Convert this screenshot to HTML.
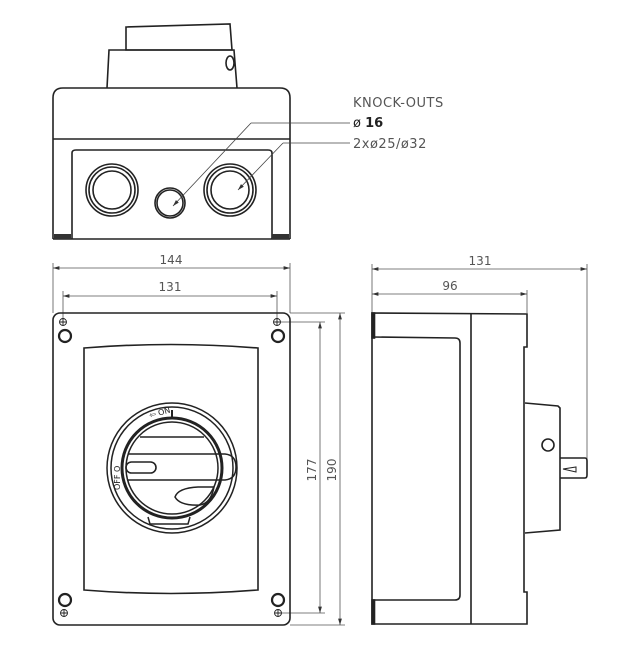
<!DOCTYPE html>
<html><head><style>
html,body{margin:0;padding:0;background:#fff;}
svg{display:block;}
text{font-family:"DejaVu Sans","Liberation Sans",sans-serif;fill:#555;}
</style></head><body>
<svg width="628" height="671" viewBox="0 0 628 671" xmlns="http://www.w3.org/2000/svg">
<defs>
<marker id="a" viewBox="0 0 10 6" refX="10" refY="3" markerWidth="8" markerHeight="5" orient="auto-start-reverse"><path d="M0,0 L10,3 L0,6 z" fill="#333"/></marker>
</defs>
<g fill="none" stroke="#222" stroke-width="1.6">
<!-- TOP VIEW -->
<path d="M126,27 L230,24 L232,50 L126,50 Z"/>
<path d="M107,88 L109,50 L234,50 L237,88"/>
<ellipse cx="230" cy="63" rx="4" ry="7"/>
<path d="M53,239 L53,98 Q53,88 63,88 L280,88 Q290,88 290,98 L290,239"/>
<line x1="53" y1="139" x2="290" y2="139"/>
<path d="M72,239 L72,153 Q72,150 76,150 L268,150 Q272,150 272,153 L272,239"/>
<line x1="53" y1="239" x2="290" y2="239"/>
<rect x="54" y="234" width="17" height="5" fill="#333" stroke="none"/>
<rect x="272" y="234" width="17" height="5" fill="#333" stroke="none"/>
<circle cx="112" cy="190" r="26"/><circle cx="112" cy="190" r="23"/><circle cx="112" cy="190" r="19"/>
<circle cx="230" cy="190" r="26"/><circle cx="230" cy="190" r="23"/><circle cx="230" cy="190" r="19"/>
<circle cx="170" cy="203" r="15"/><circle cx="170" cy="203" r="13"/>
</g>
<g stroke="#444" stroke-width="0.8" fill="none">
<line x1="251" y1="123" x2="350" y2="123"/>
<line x1="251" y1="123" x2="173" y2="206" marker-end="url(#a)"/>
<line x1="283" y1="143" x2="350" y2="143"/>
<line x1="283" y1="143" x2="238" y2="190" marker-end="url(#a)"/>
</g>
<text x="353" y="107" font-size="13" letter-spacing="0.5">KNOCK-OUTS</text>
<text x="353" y="127" font-size="13" fill="#222" style="fill:#222">ø <tspan font-weight="bold">16</tspan></text>
<text x="353" y="148" font-size="13" letter-spacing="0.5">2xø25/ø32</text>

<!-- dimensions front -->
<g stroke="#555" stroke-width="0.8" fill="none">
<line x1="53" y1="263" x2="53" y2="313"/><line x1="290" y1="263" x2="290" y2="313"/>
<line x1="53" y1="268" x2="290" y2="268" marker-start="url(#a)" marker-end="url(#a)"/>
<line x1="63" y1="291" x2="63" y2="320"/><line x1="277" y1="291" x2="277" y2="320"/>
<line x1="63" y1="296" x2="277" y2="296" marker-start="url(#a)" marker-end="url(#a)"/>
<line x1="290" y1="313" x2="345" y2="313"/><line x1="290" y1="625" x2="345" y2="625"/>
<line x1="340" y1="313" x2="340" y2="625" marker-start="url(#a)" marker-end="url(#a)"/>
<line x1="280" y1="322" x2="325" y2="322"/><line x1="280" y1="613" x2="325" y2="613"/>
<line x1="320" y1="322" x2="320" y2="613" marker-start="url(#a)" marker-end="url(#a)"/>
<!-- side dims -->
<line x1="372" y1="264" x2="372" y2="313"/><line x1="587" y1="264" x2="587" y2="460"/>
<line x1="372" y1="269" x2="587" y2="269" marker-start="url(#a)" marker-end="url(#a)"/>
<line x1="527" y1="290" x2="527" y2="313"/>
<line x1="372" y1="294" x2="527" y2="294" marker-start="url(#a)" marker-end="url(#a)"/>
</g>
<text x="171" y="264" font-size="12" text-anchor="middle">144</text>
<text x="170" y="291" font-size="12" text-anchor="middle">131</text>
<text x="480" y="265" font-size="12" text-anchor="middle">131</text>
<text x="450" y="290" font-size="12" text-anchor="middle">96</text>
<text transform="translate(316,470) rotate(-90)" font-size="12" text-anchor="middle">177</text>
<text transform="translate(336,470) rotate(-90)" font-size="12" text-anchor="middle">190</text>

<!-- FRONT VIEW -->
<g fill="none" stroke="#222" stroke-width="1.6">
<rect x="53" y="313" width="237" height="312" rx="7"/>
<path d="M84,348 Q171,341 258,348 L258,590 Q171,597 84,590 Z"/>
<circle cx="65" cy="336" r="6" stroke-width="2.2"/><circle cx="278" cy="336" r="6" stroke-width="2.2"/>
<circle cx="65" cy="600" r="6" stroke-width="2.2"/><circle cx="278" cy="600" r="6" stroke-width="2.2"/>
</g>
<g fill="none" stroke="#222" stroke-width="0.9">
<circle cx="63" cy="322" r="3.5"/><path d="M59.5,322h7M63,318.5v7"/>
<circle cx="277" cy="322" r="3.5"/><path d="M273.5,322h7M277,318.5v7"/>
<circle cx="64" cy="613" r="3.5"/><path d="M60.5,613h7M64,609.5v7"/>
<circle cx="278" cy="613" r="3.5"/><path d="M274.5,613h7M278,609.5v7"/>
</g>
<!-- dial -->
<g fill="none" stroke="#222" stroke-width="1.5">
<circle cx="172" cy="468" r="65"/>
<circle cx="172" cy="468" r="61"/>
<circle cx="172" cy="468" r="50" stroke-width="3"/>
<circle cx="172" cy="468" r="46"/>
<path d="M140,437 L204,437"/>
<path d="M128,454 L225,454 Q236,455 236,467 Q236,479 225,480 L128,480"/>
<rect x="126" y="462" width="30" height="11" rx="5.5" stroke-width="1.6"/>
<path d="M175,497 Q178,488 198,487 L214,487 Q211,503 200,505 Q180,506 175,497 Z"/>
<path d="M148,517 L150,524 L188,524 L190,517"/>
<line x1="172" y1="410" x2="172" y2="418" stroke-width="2"/>
</g>
<text x="150" y="418" font-size="8" fill="#222" style="fill:#222" transform="rotate(-15 150 418)">⇦ ON</text>
<text transform="translate(120,490) rotate(-90)" font-size="8" style="fill:#222">OFF O</text>

<!-- SIDE VIEW -->
<g fill="none" stroke="#222" stroke-width="1.6">
<path d="M372,313 L527,314 L527,347 L524,347 L524,592 L527,592 L527,624 L372,624 Z"/>
<line x1="471" y1="313" x2="471" y2="624"/>
<path d="M372,337 L455,338 Q460,338 460,343 L460,595 Q460,600 455,600 L372,600"/>
<rect x="372" y="313" width="2.5" height="25" fill="#222"/>
<rect x="372" y="600" width="2.5" height="24" fill="#222"/>
<path d="M525,403 L558,406 L560,408 L560,530 L525,533"/>
<circle cx="548" cy="445" r="6"/>
<path d="M560,458 L585,458 Q587,458 587,461 L587,475 Q587,478 585,478 L560,478"/>
<path d="M563,469 L576,467 L576,472 Z" stroke-width="1"/>
</g>
</svg>
</body></html>
